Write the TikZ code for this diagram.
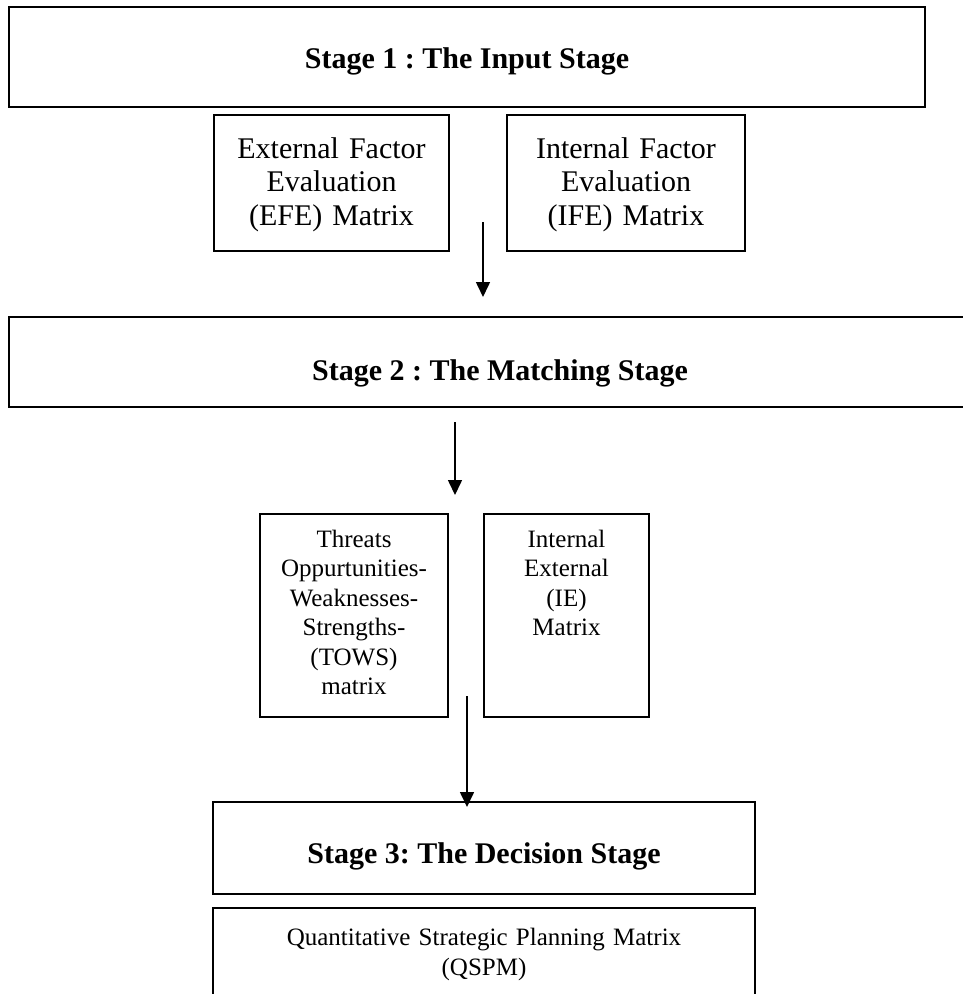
\documentclass[tikz,border=0pt]{standalone}
\usepackage{fontspec}
\setmainfont{Liberation Serif}
\frenchspacing
\usetikzlibrary{arrows.meta}
\begin{document}
\begin{tikzpicture}[x=1pt,y=-1pt,
  stagebox/.style={draw, line width=2.2pt, rectangle, inner sep=0pt, outer sep=0pt},
  smallbox/.style={draw, line width=1.5pt, rectangle, inner sep=0pt, outer sep=0pt},
  stagetext/.style={anchor=base, inner sep=0pt, font=\fontsize{30}{34.5}\selectfont\bfseries},
  bigtext/.style={anchor=base, inner sep=0pt, align=center, text width=#1, font=\fontsize{30}{33.5}\selectfont},
  smalltext/.style={anchor=base, inner sep=0pt, align=center, text width=#1, font=\fontsize{25}{29.5}\selectfont},
  qtext/.style={anchor=base, inner sep=0pt, align=center, text width=#1, font=\fontsize{25}{30}\selectfont},
  flow/.style={line width=1.6pt, -{Triangle[width=14pt,length=15pt]}}
]
\useasboundingbox (0,0) rectangle (963,994);

% boxes
\node[stagebox, minimum width=916pt, minimum height=100pt] (s1) at (467,57) {};
\node[smallbox, minimum width=235pt, minimum height=136pt] (efe) at (331.5,183) {};
\node[smallbox, minimum width=238pt, minimum height=136pt] (ife) at (626,183) {};
\node[stagebox, minimum width=986pt, minimum height=90pt] (s2) at (502,362) {};
\node[smallbox, minimum width=188pt, minimum height=203pt] (tows) at (354,615.5) {};
\node[smallbox, minimum width=165pt, minimum height=203pt] (ie) at (566.5,615.5) {};
\node[stagebox, minimum width=542pt, minimum height=92pt] (s3) at (484,848) {};
\node[smallbox, minimum width=542pt, minimum height=102pt] (qspm) at (484,959) {};

% texts
\node[stagetext] (s1t) at (467,68) {Stage 1 : The Input Stage};
\node[bigtext=235pt] (efet) at (331.5,158) {External Factor\\Evaluation\\(EFE) Matrix};
\node[bigtext=238pt] (ifet) at (626,158) {Internal Factor\\Evaluation\\(IFE) Matrix};
\node[stagetext] (s2t) at (500,380) {Stage 2 : The Matching Stage};
\node[smalltext=188pt] (towst) at (354,547) {Threats\\Oppurtunities-\\Weaknesses-\\Strengths-\\(TOWS)\\matrix};
\node[smalltext=165pt] (iet) at (566.5,547) {Internal\\External\\(IE)\\Matrix};
\node[stagetext] (s3t) at (484,863) {Stage 3: The Decision Stage};
\node[qtext=542pt] (qspmt) at (484,945) {Quantitative Strategic Planning Matrix\\(QSPM)};

% arrows
\coordinate (a1s) at (483,222);
\coordinate (a1e) at (483,297);
\coordinate (a2s) at (455,422);
\coordinate (a2e) at (455,495);
\coordinate (a3s) at (467,696);
\coordinate (a3e) at (467,807);
\draw[flow] (a1s) -- (a1e);
\draw[flow] (a2s) -- (a2e);
\draw[flow] (a3s) -- (a3e);
\end{tikzpicture}
\end{document}
